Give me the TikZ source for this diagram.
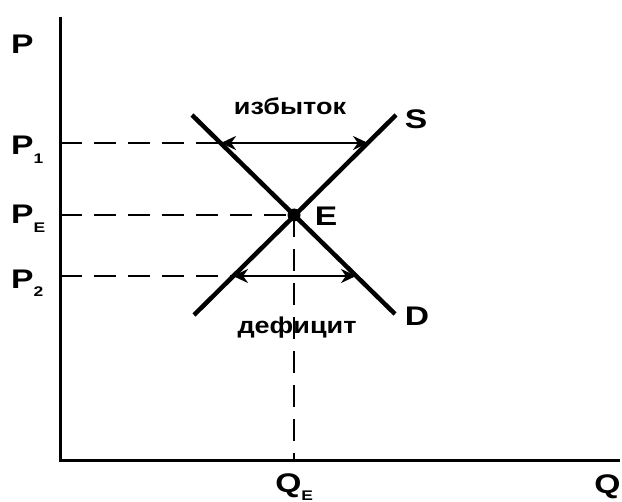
\documentclass[tikz,border=0pt]{standalone}
\usepackage{fontspec}
\setmainfont{Liberation Sans}
\usetikzlibrary{arrows.meta}
\newcommand{\sbs}[1]{\raisebox{-0.3em}{\fontsize{14}{14}\selectfont #1}}
\begin{document}
\begin{tikzpicture}[x=1bp,y=-1bp,
  lbl/.style={font=\fontsize{27}{29}\selectfont\bfseries, inner sep=0pt, xscale=1.25},
  word/.style={font=\fontsize{23}{26}\selectfont\bfseries, inner sep=0pt, xscale=1.18},
  axisline/.style={line width=3bp},
  curve/.style={line width=4.5bp},
  guide/.style={line width=2bp, dash pattern=on 22bp off 12bp},
  gap/.style={line width=2.5bp, {Stealth[length=15bp,width=14bp]}-{Stealth[length=15bp,width=14bp]}}]
\useasboundingbox (0,0) rectangle (622,502);
% axes
\coordinate (ytop) at (60,17);
\coordinate (O) at (60,460);
\coordinate (xend) at (620,460);
\draw[axisline] (ytop) -- (O) -- (xend);
% curves
\coordinate (Dt) at (192,115);
\coordinate (Db) at (395,314);
\coordinate (Sb) at (194,315);
\coordinate (St) at (396,115);
\draw[curve] (Dt) -- (Db);
\draw[curve] (Sb) -- (St);
\coordinate (E) at (294,215);
\fill (E) circle (6.5bp);
% axis points
\coordinate (a1) at (60,143);
\coordinate (aE) at (60,215);
\coordinate (a2) at (60,276);
\coordinate (qE) at (294,460);
\coordinate (d1) at (221,143);
\coordinate (s1) at (368,143);
\coordinate (s2) at (233,276);
\coordinate (d2) at (356,276);
% guides
\draw[guide] (a1) -- (d1);
\draw[guide] (aE) -- (E);
\draw[guide] (a2) -- (s2);
\draw[guide] (E) -- (qE);
% gaps
\draw[gap] (d1) -- (s1);
\draw[gap] (s2) -- (d2);
% labels
\node[lbl, anchor=base west] (P) at (11,54) {P};
\node[lbl, anchor=base west] (P1) at (11,155) {P\sbs{1}};
\node[lbl, anchor=base west] (PE) at (11,224) {P\sbs{E}};
\node[lbl, anchor=base west] (P2) at (11,288) {P\sbs{2}};
\node[lbl, anchor=base west] (Q) at (594,493) {Q};
\node[lbl, anchor=base west] (QE) at (275,492) {Q\sbs{E}};
\node[lbl] (Sl) at (416,119) {S};
\node[lbl] (El) at (326,216) {E};
\node[lbl] (Dl) at (417,316) {D};
\node[word] (izb) at (290,106) {избыток};
\node[word] (def) at (297,328) {дефицит};
\end{tikzpicture}
\end{document}
